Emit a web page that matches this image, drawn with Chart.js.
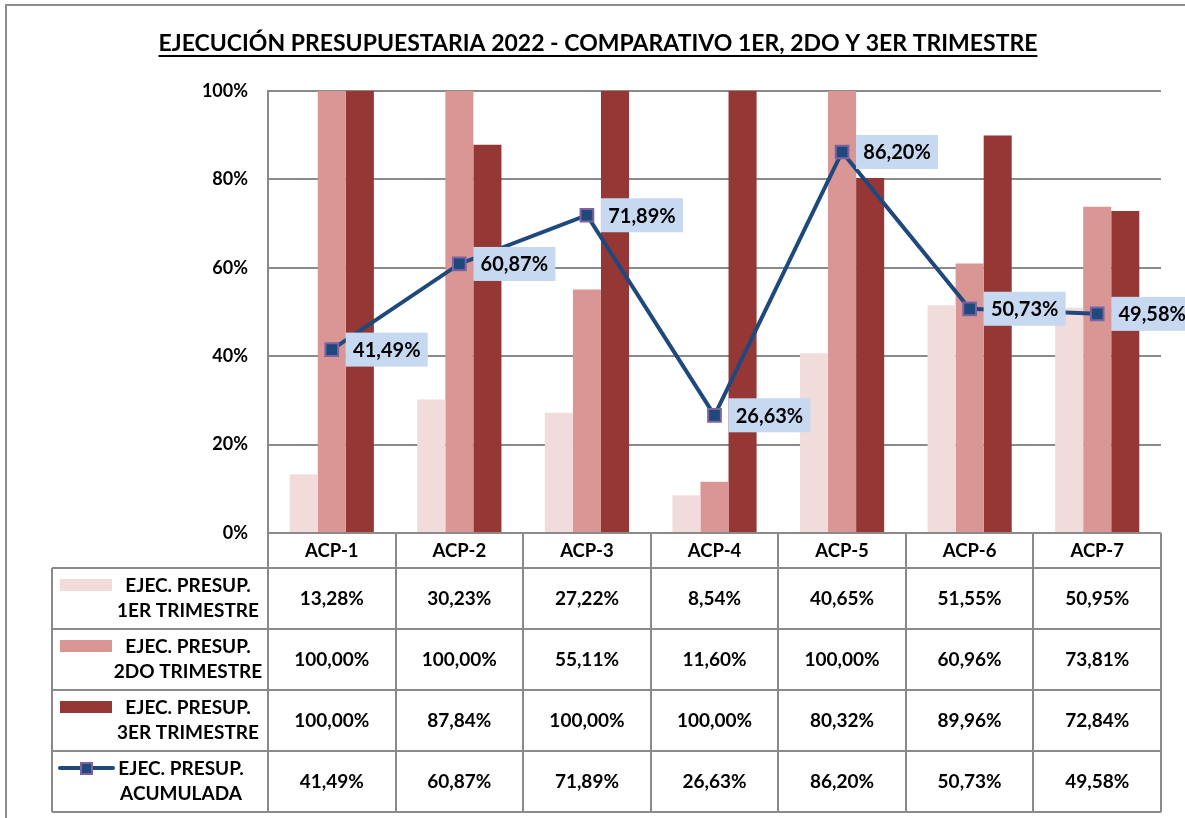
<!DOCTYPE html>
<html><head><meta charset="utf-8">
<script src="https://cdn.jsdelivr.net/npm/chart.js@4.4.0/dist/chart.umd.min.js"></script>
<style>html,body{margin:0;padding:0;background:#fff;overflow:hidden}</style>
</head><body>
<canvas id="c" width="1185" height="818"></canvas>
<script>
const categories = ['ACP-1','ACP-2','ACP-3','ACP-4','ACP-5','ACP-6','ACP-7'];
const trim1 = [13.28, 30.23, 27.22, 8.54, 40.65, 51.55, 50.95];
const trim2 = [100.00, 100.00, 55.11, 11.60, 100.00, 60.96, 73.81];
const trim3 = [100.00, 87.84, 100.00, 100.00, 80.32, 89.96, 72.84];
const acum  = [41.49, 60.87, 71.89, 26.63, 86.20, 50.73, 49.58];
const seriesLabels = [
  ['EJEC. PRESUP.', '1ER TRIMESTRE'],
  ['EJEC. PRESUP.', '2DO TRIMESTRE'],
  ['EJEC. PRESUP.', '3ER TRIMESTRE'],
  ['EJEC. PRESUP.', 'ACUMULADA']
];
const yTickValues = [0, 20, 40, 60, 80, 100];
const chartTitle = 'EJECUCIÓN PRESUPUESTARIA 2022 - COMPARATIVO 1ER, 2DO Y 3ER TRIMESTRE';

const FONT = 'Lato, "Open Sans", sans-serif';
const C1 = '#F2DCDB', C2 = '#D99694', C3 = '#953735';
const LINE = '#1F497D', MARK_BORDER = '#7F63A1', LABEL_BG = '#C6D9F1';
const GRID = '#8A8A8A';
const fmt = v => v.toFixed(2).replace('.', ',') + '%';

const extras = {
  id: 'extras',
  beforeDraw(chart) {
    const ctx = chart.ctx;
    ctx.save();
    ctx.fillStyle = '#fff';
    ctx.fillRect(0, 0, chart.width, chart.height);
    ctx.strokeStyle = '#8C8C8C';
    ctx.lineWidth = 2;
    ctx.strokeRect(6, 5, 1200, 840);
    ctx.restore();
  },
  afterDatasetsDraw(chart) {
    const ctx = chart.ctx;
    const meta = chart.getDatasetMeta(3);
    ctx.save();
    ctx.font = 'bold 20px ' + FONT;
    ctx.textAlign = 'center';
    ctx.textBaseline = 'middle';
    meta.data.forEach((pt, i) => {
      const bx = pt.x + 14, bw = 82, bh = 34;
      ctx.fillStyle = LABEL_BG;
      ctx.fillRect(bx, pt.y - bh / 2, bw, bh);
      ctx.fillStyle = '#000';
      ctx.fillText(fmt(acum[i]), bx + bw / 2, pt.y + 1);
    });
    ctx.restore();
  },
  afterDraw(chart) {
    const ctx = chart.ctx;
    const a = chart.chartArea;
    const xs = chart.scales.x;
    ctx.save();
    // title
    ctx.font = 'bold 23px ' + FONT;
    ctx.textAlign = 'center';
    ctx.textBaseline = 'middle';
    ctx.fillStyle = '#000';
    const tx = 598, ty = 44;
    ctx.fillText(chartTitle, tx, ty);
    const tw = ctx.measureText(chartTitle).width;
    ctx.fillRect(tx - tw / 2, 55, tw, 2);

    // table
    const n = categories.length;
    const cw = (a.right - a.left) / n;
    const tableLeft = 52;
    const headerBottom = 568;
    const rowH = 61;
    const rows = [headerBottom, headerBottom + rowH, headerBottom + 2 * rowH, headerBottom + 3 * rowH, headerBottom + 4 * rowH];
    ctx.strokeStyle = GRID;
    ctx.lineWidth = 2;
    ctx.beginPath();
    for (let i = 0; i <= n; i++) {
      const x = Math.round(a.left + i * cw);
      ctx.moveTo(x, a.bottom);
      ctx.lineTo(x, rows[4]);
    }
    ctx.moveTo(tableLeft, rows[0]);
    ctx.lineTo(tableLeft, rows[4]);
    rows.forEach(y => { ctx.moveTo(tableLeft, y); ctx.lineTo(a.right, y); });
    ctx.stroke();

    ctx.fillStyle = '#000';
    ctx.font = 'bold 18.5px ' + FONT;
    categories.forEach((c, i) => {
      ctx.fillText(c, xs.getPixelForValue(i), (a.bottom + headerBottom) / 2 + 1);
    });
    ctx.font = 'bold 19px ' + FONT;
    const series = [trim1, trim2, trim3, acum];
    series.forEach((arr, r) => {
      const cy = (rows[r] + rows[r + 1]) / 2;
      arr.forEach((v, i) => {
        ctx.fillText(fmt(v), xs.getPixelForValue(i), cy);
      });
    });
    // legend keys
    const colors = [C1, C2, C3];
    for (let r = 0; r < 4; r++) {
      const top = rows[r];
      const keyY = top + 17;
      if (r < 3) {
        ctx.fillStyle = colors[r];
        ctx.fillRect(60, keyY - 6, 52, 12);
      } else {
        ctx.strokeStyle = LINE;
        ctx.lineWidth = 4;
        ctx.lineCap = 'round';
        ctx.beginPath();
        ctx.moveTo(60, keyY);
        ctx.lineTo(113, keyY);
        ctx.stroke();
        ctx.lineCap = 'butt';
        ctx.fillStyle = LINE;
        ctx.fillRect(81, keyY - 5, 11, 11);
        ctx.strokeStyle = MARK_BORDER;
        ctx.lineWidth = 2;
        ctx.strokeRect(81, keyY - 5, 11, 11);
      }
      ctx.fillStyle = '#000';
      ctx.font = 'bold 19px ' + FONT;
      const lx = r === 3 ? 181 : 188;
      ctx.fillText(seriesLabels[r][0], lx, top + 18);
      ctx.fillText(seriesLabels[r][1], lx, top + 43);
    }
    ctx.restore();
  }
};

new Chart(document.getElementById('c'), {
  data: {
    labels: categories,
    datasets: [
      { type: 'bar', label: seriesLabels[0].join(' '), data: trim1, backgroundColor: C1, order: 2, barPercentage: 1, categoryPercentage: 0.66 },
      { type: 'bar', label: seriesLabels[1].join(' '), data: trim2, backgroundColor: C2, order: 2, barPercentage: 1, categoryPercentage: 0.66 },
      { type: 'bar', label: seriesLabels[2].join(' '), data: trim3, backgroundColor: C3, order: 2, barPercentage: 1, categoryPercentage: 0.66 },
      { type: 'line', label: seriesLabels[3].join(' '), data: acum, borderColor: LINE, borderWidth: 4,
        pointStyle: 'rect', pointRadius: 9, pointBackgroundColor: LINE, pointBorderColor: MARK_BORDER, pointBorderWidth: 2,
        tension: 0, order: 0 }
    ]
  },
  options: {
    responsive: false,
    animation: false,
    devicePixelRatio: 1,
    layout: { padding: { left: 0, right: 24, top: 91, bottom: 285 } },
    plugins: { legend: { display: false }, tooltip: { enabled: false }, title: { display: false } },
    scales: {
      x: { display: false, offset: true, grid: { display: false } },
      y: {
        min: 0, max: 100,
        afterFit(s) { s.width = 268; },
        afterBuildTicks(s) { s.ticks = yTickValues.map(v => ({ value: v })); },
        border: { display: true, color: GRID, width: 2 },
        grid: { color: GRID, lineWidth: 2, drawTicks: false },
        ticks: { padding: 20, color: '#000', font: { family: FONT, weight: 'bold', size: 18 }, callback: v => v + '%' }
      }
    }
  },
  plugins: [extras]
});
</script>
</body></html>
